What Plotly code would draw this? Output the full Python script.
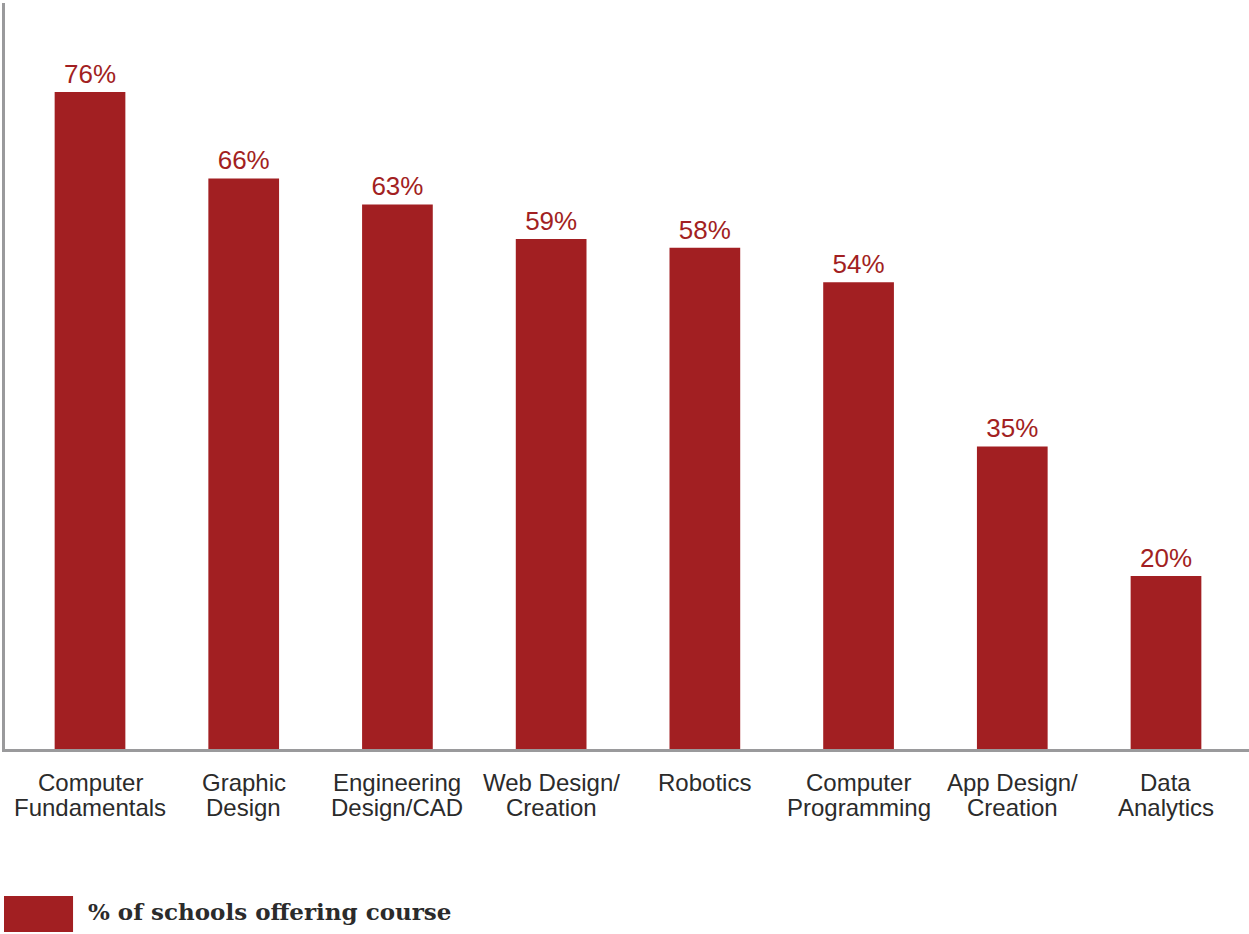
import plotly.graph_objects as go

categories = ["Computer Fundamentals", "Graphic Design", "Engineering Design/CAD",
              "Web Design/Creation", "Robotics", "Computer Programming",
              "App Design/Creation", "Data Analytics"]
tick_lines = [["Computer", "Fundamentals"], ["Graphic", "Design"],
              ["Engineering", "Design/CAD"], ["Web Design/", "Creation"],
              ["Robotics"], ["Computer", "Programming"],
              ["App Design/", "Creation"], ["Data", "Analytics"]]
values = [76, 66, 63, 59, 58, 54, 35, 20]
legend_label = "% of schools offering course"

RED = "#A21F22"
GRAY = "#9A9A9C"
TEXT = "#2B2B2B"

fig = go.Figure()
fig.add_trace(go.Bar(
    x=list(range(len(categories))), y=values,
    width=0.46, marker=dict(color=RED, line=dict(width=0)),
    text=[f"{v}%" for v in values], textposition="outside",
    textfont=dict(family="Liberation Sans, Arial", size=26, color=RED),
    cliponaxis=False, showlegend=False, hoverinfo="skip",
    customdata=categories,
))

annotations = []
for i, lines in enumerate(tick_lines):
    for j, line in enumerate(lines):
        annotations.append(dict(
            x=i, xref="x", y=0, yref="paper", yanchor="top", xanchor="center",
            yshift=-18 - 25 * j, text=line, showarrow=False,
            font=dict(family="Liberation Sans, Arial", size=24, color=TEXT)))

annotations.append(dict(
    x=0.0651, xref="paper", y=-0.2172, yref="paper", xanchor="left", yanchor="middle",
    text=f"<b>{legend_label}</b>", showarrow=False,
    font=dict(family="DejaVu Serif", size=23, color=TEXT)))

fig.update_layout(
    width=1249, height=934,
    margin=dict(l=5, r=0, t=3, b=185),
    paper_bgcolor="white", plot_bgcolor="white",
    xaxis=dict(range=[-0.553, 7.54], showticklabels=False, ticks="",
               showgrid=False, zeroline=False, showline=True,
               linecolor=GRAY, linewidth=3),
    yaxis=dict(range=[0, 86.3], showticklabels=False, ticks="",
               showgrid=False, zeroline=False, showline=True,
               linecolor=GRAY, linewidth=3),
    annotations=annotations,
    shapes=[dict(type="rect", xref="paper", yref="paper",
                 x0=-0.0008, x1=0.0547, y0=-0.2453, y1=-0.197,
                 fillcolor=RED, line=dict(width=0))],
)

fig.write_html("out.html")
